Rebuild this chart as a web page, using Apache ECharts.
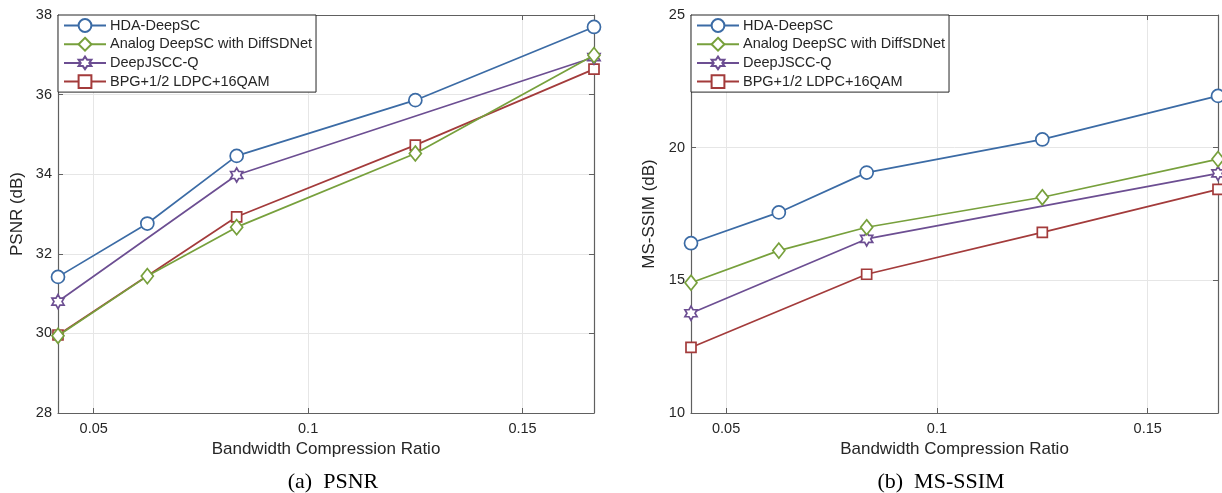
<!DOCTYPE html>
<html>
<head>
<meta charset="utf-8">
<script src="https://cdn.jsdelivr.net/npm/echarts@6/dist/echarts.min.js"></script>
<style>
html,body{margin:0;padding:0;background:#fff;}
#c{width:1222px;height:493px;}
</style>
</head>
<body>
<div id="c"></div>
<script>
// ---- data ----
const xRatios = [0.041667, 0.0625, 0.083333, 0.125, 0.166667];
const xTickValues = [0.05, 0.1, 0.15];
const seriesNames = ['HDA-DeepSC', 'Analog DeepSC with DiffSDNet', 'DeepJSCC-Q', 'BPG+1/2 LDPC+16QAM'];

const psnrHDA    = [31.42, 32.76, 34.46, 35.86, 37.70];
const psnrAnalog = [29.94, 31.44, 32.67, 34.52, 36.99];
const psnrDJSCC  = [30.80, null, 33.98, null, 36.94];
const psnrBPG    = [29.96, null, 32.93, 34.73, 36.64];

const ssimHDA    = [16.40, 17.56, 19.06, 20.31, 21.95];
const ssimAnalog = [14.91, 16.12, 17.00, 18.13, 19.57];
const ssimDJSCC  = [13.76, null, 16.56, null, 19.03];
const ssimBPG    = [12.47, null, 15.23, 16.81, 18.43];

const psnrTicks = [28, 30, 32, 34, 36, 38];
const ssimTicks = [10, 15, 20, 25];

// ---- styling ----
const colors = ['#3b6ba5', '#77a03c', '#6c4e92', '#a33b3b'];
const hexagram = 'path://M0,-1 L0.2887,-0.5 L0.866,-0.5 L0.5774,0 L0.866,0.5 L0.2887,0.5 L0,1 L-0.2887,0.5 L-0.866,0.5 L-0.5774,0 L-0.866,-0.5 L-0.2887,-0.5 Z';
const symbols = ['circle', 'diamond', hexagram, 'rect'];
const symbolSizes = [13, [12, 15], 14, 10];
const FONT = 'Liberation Sans, Arial, sans-serif';
const SERIF = 'Liberation Serif, Times New Roman, serif';
const axisCol = '#606060';
const txtCol = '#262626';

function pairs(vals) {
  const out = [];
  vals.forEach((v, i) => { if (v !== null) out.push([xRatios[i], v]); });
  return out;
}

function makeSeries(list, xi, yi) {
  return list.map((vals, k) => ({
    name: seriesNames[k],
    type: 'line',
    xAxisIndex: xi,
    yAxisIndex: yi,
    data: pairs(vals),
    symbol: symbols[k],
    symbolSize: symbolSizes[k],
    symbolKeepAspect: true,
    showAllSymbol: true,
    clip: false,
    lineStyle: { color: colors[k], width: 1.7 },
    itemStyle: { color: '#fff', borderColor: colors[k], borderWidth: 1.7 },
    emphasis: { disabled: true },
    animation: false,
    z: 3 + (3 - k)
  }));
}

function bottomX(grid, name) {
  return {
    type: 'value', gridIndex: grid, position: 'bottom',
    min: xRatios[0], max: xRatios[xRatios.length - 1],
    name: name, nameLocation: 'middle', nameGap: 26,
    nameTextStyle: { fontFamily: FONT, fontSize: 17, color: txtCol },
    axisLine: { show: true, onZero: false, lineStyle: { color: axisCol, width: 1.2 } },
    axisTick: { show: true, inside: true, length: 5, customValues: xTickValues, lineStyle: { color: axisCol } },
    axisLabel: { show: true, customValues: xTickValues, margin: 8, fontFamily: FONT, fontSize: 14.5, color: txtCol,
      formatter: v => String(+v.toFixed(3)) },
    splitLine: { show: true, lineStyle: { color: '#e6e6e6', width: 1 } }
  };
}
function topX(grid) {
  return {
    type: 'value', gridIndex: grid, position: 'top',
    min: xRatios[0], max: xRatios[xRatios.length - 1],
    axisLine: { show: true, onZero: false, lineStyle: { color: axisCol, width: 1.2 } },
    axisTick: { show: true, inside: true, length: 5, customValues: xTickValues, lineStyle: { color: axisCol } },
    axisLabel: { show: false },
    splitLine: { show: false }
  };
}
function leftY(grid, ticks, name, gap) {
  return {
    type: 'value', gridIndex: grid, position: 'left',
    min: ticks[0], max: ticks[ticks.length - 1], interval: ticks[1] - ticks[0],
    name: name, nameLocation: 'middle', nameGap: gap, nameRotate: 90,
    nameTextStyle: { fontFamily: FONT, fontSize: 17, color: txtCol },
    axisLine: { show: true, onZero: false, lineStyle: { color: axisCol, width: 1.2 } },
    axisTick: { show: true, inside: true, length: 5, lineStyle: { color: axisCol } },
    axisLabel: { show: true, margin: 6, fontFamily: FONT, fontSize: 14.5, color: txtCol },
    splitLine: { show: true, lineStyle: { color: '#e6e6e6', width: 1 } }
  };
}
function rightY(grid, ticks) {
  return {
    type: 'value', gridIndex: grid, position: 'right',
    min: ticks[0], max: ticks[ticks.length - 1], interval: ticks[1] - ticks[0],
    axisLine: { show: true, onZero: false, lineStyle: { color: axisCol, width: 1.2 } },
    axisTick: { show: true, inside: true, length: 5, lineStyle: { color: axisCol } },
    axisLabel: { show: false },
    splitLine: { show: false }
  };
}
function legend(left) {
  return {
    left: left, top: 15, orient: 'vertical',
    data: seriesNames,
    backgroundColor: '#fff', borderColor: '#262626', borderWidth: 1, borderRadius: 0,
    padding: [3, 4, 3, 5], itemGap: 3.7, itemWidth: 42, itemHeight: 16,
    textStyle: { fontFamily: FONT, fontSize: 14.5, color: txtCol, padding: [0, 0, 0, -1] },
    selectedMode: false, z: 10
  };
}

const option = {
  animation: false,
  backgroundColor: '#fff',
  grid: [
    { left: 58, right: 1222 - 594, top: 15, bottom: 80 },
    { left: 691, right: 4, top: 15, bottom: 80 }
  ],
  xAxis: [bottomX(0, 'Bandwidth Compression Ratio'), topX(0), bottomX(1, 'Bandwidth Compression Ratio'), topX(1)],
  yAxis: [leftY(0, psnrTicks, 'PSNR (dB)', 32), rightY(0, psnrTicks), leftY(1, ssimTicks, 'MS-SSIM (dB)', 33), rightY(1, ssimTicks)],
  legend: [legend(58), legend(691)],
  title: [
    { text: '(a)  PSNR', left: 328, top: 466, textAlign: 'center',
      textStyle: { fontFamily: SERIF, fontSize: 22, fontWeight: 'normal', color: '#000' } },
    { text: '(b)  MS-SSIM', left: 936, top: 466, textAlign: 'center',
      textStyle: { fontFamily: SERIF, fontSize: 22, fontWeight: 'normal', color: '#000' } }
  ],
  series: [].concat(
    makeSeries([psnrHDA, psnrAnalog, psnrDJSCC, psnrBPG], 0, 0),
    makeSeries([ssimHDA, ssimAnalog, ssimDJSCC, ssimBPG], 2, 2)
  )
};

const chart = echarts.init(document.getElementById('c'), null, { renderer: 'canvas' });
chart.setOption(option);
</script>
</body>
</html>
